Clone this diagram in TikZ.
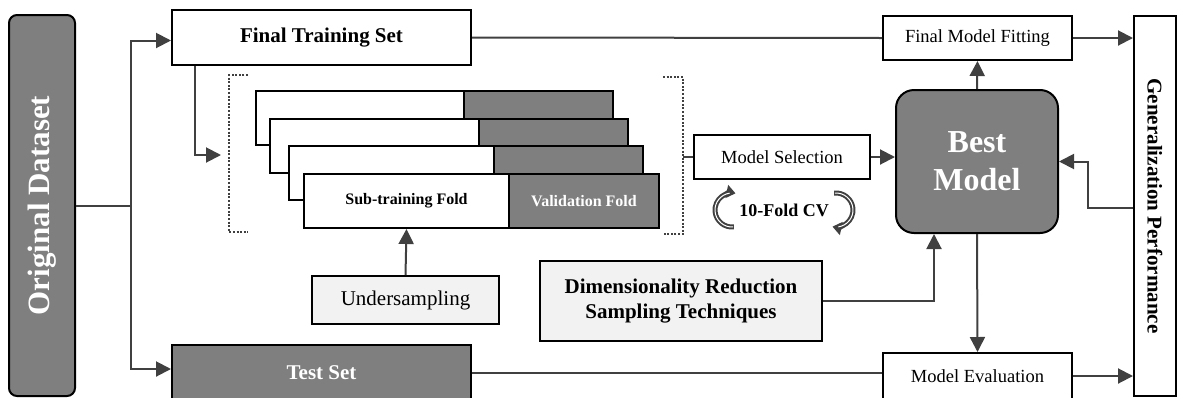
\documentclass[tikz,border=0pt]{standalone}
\usepackage{fontspec}
\setmainfont{Liberation Serif}
\usetikzlibrary{arrows.meta,calc}

\definecolor{boxgray}{HTML}{7F7F7F}
\definecolor{lightfill}{HTML}{F2F2F2}
\definecolor{linegray}{HTML}{404040}

\begin{document}
\begin{tikzpicture}[x=1pt,y=-1pt,
  box/.style={draw=black, line width=2pt, inner sep=0pt, align=center},
  whitebox/.style={box, fill=white},
  graybox/.style={box, fill=boxgray, text=white},
  lightbox/.style={box, fill=lightfill},
  conn/.style={draw=linegray, line width=2pt, -{Triangle[length=15pt,width=15pt]}},
  link/.style={draw=linegray, line width=2pt},
  bracket/.style={draw=linegray, line width=2pt, dash pattern=on 2pt off 1.6pt},
  cvarc/.style={draw=linegray, line width=5pt, -{Triangle[length=9pt,width=13pt]}},
  cvinner/.style={draw=white, line width=1pt},
  bigbold/.style={font=\bfseries\fontsize{21}{25}\selectfont},
  plain/.style={font=\fontsize{18.5}{22}\selectfont},
  foldtext/.style={font=\bfseries\fontsize{16}{19}\selectfont},
]
\useasboundingbox (0,0) rectangle (1177,397);

% input data and the two splits
\node[graybox, rounded corners=8pt, minimum width=66pt, minimum height=381pt,
      font=\bfseries\fontsize{31}{36}\selectfont] (orig) at (42,205.5)
      {\rotatebox{90}{Original Dataset}};
\node[whitebox, bigbold, minimum width=299pt, minimum height=55pt] (fts) at (321.5,37.5) {Final Training Set};
\node[graybox, bigbold, minimum width=299pt, minimum height=55pt] (test) at (321.5,372.5) {Test Set};

% output side
\node[whitebox, plain, minimum width=189pt, minimum height=44pt] (fmf) at (977.5,38) {Final Model Fitting};
\node[whitebox, plain, minimum width=189pt, minimum height=46pt] (me) at (977.5,376) {Model Evaluation};
\node[whitebox, bigbold, minimum width=42pt, minimum height=380pt] (gp) at (1155,206)
      {\rotatebox{-90}{Generalization Performance}};
\node[graybox, rounded corners=18pt, minimum width=162pt, minimum height=143pt,
      font=\bfseries\fontsize{32}{38}\selectfont] (bm) at (977,161.5) {Best\\Model};
\node[whitebox, plain, minimum width=176pt, minimum height=44pt] (ms) at (782,157) {Model Selection};

% cross-validation folds, back to front
\node[whitebox, anchor=north west, minimum width=208pt, minimum height=54pt] (f1a) at (255,90) {};
\node[graybox,  anchor=north west, minimum width=149pt, minimum height=54pt] (f1b) at (463,90) {};
\node[whitebox, anchor=north west, minimum width=209pt, minimum height=54pt] (f2a) at (269,118) {};
\node[graybox,  anchor=north west, minimum width=149pt, minimum height=54pt] (f2b) at (478,118) {};
\node[whitebox, anchor=north west, minimum width=205pt, minimum height=54pt] (f3a) at (288,145) {};
\node[graybox,  anchor=north west, minimum width=149pt, minimum height=54pt] (f3b) at (493,145) {};
\node[whitebox, foldtext, anchor=north west, minimum width=205pt, minimum height=54pt] (f4a) at (303,173) {Sub-training Fold};
\node[graybox,  foldtext, anchor=north west, minimum width=150pt, minimum height=54pt] (f4b) at (508,173) {Validation Fold};

% preprocessing boxes
\node[lightbox, font=\fontsize{21}{25}\selectfont, minimum width=187pt, minimum height=48pt] (us) at (405.5,300) {Undersampling};
\node[lightbox, bigbold, minimum width=282pt, minimum height=80pt] (dr) at (681,301)
      {Dimensionality Reduction\\Sampling Techniques};

% dotted brackets around the folds
\draw[bracket] (248,75) -- (229,75) -- (229,232) -- (248,232);
\draw[bracket] (663,77) -- (683,77) -- (683,234) -- (663,234);
\coordinate (lbin) at (221,155);
\coordinate (rb) at (683,157);

% 10-fold CV label with circular arrows
\node[font=\bfseries\fontsize{18}{22}\selectfont] (cv) at (784,210) {10-Fold CV};
\draw[cvarc] ($(732,210)+(84:17)$) arc[start angle=84, end angle=282, radius=17];
\draw[cvinner] ($(732,210)+(86:17)$) arc[start angle=86, end angle=262, radius=17];
\draw[cvarc] ($(836,210)+(-96:17)$) arc[start angle=-96, end angle=102, radius=17];
\draw[cvinner] ($(836,210)+(-94:17)$) arc[start angle=-94, end angle=82, radius=17];

% connectors
\coordinate (split) at (131,205.5);
\draw[link] (orig.east |- split) -- (split);
\draw[conn] (split) |- ([yshift=-3pt]fts.west);
\draw[conn] (split) |- ([yshift=3.5pt]test.west);
\draw[link] (fts.east) -- (fmf.west);
\draw[link] (test.east) -- (me.west |- test.east);
\draw[conn] ([xshift=-126.5pt]fts.south) |- (lbin);
\draw[link] (rb) -- (ms.west);
\draw[conn] (ms.east) -- (bm.west |- ms.east);
\draw[conn] (bm.north) -- (fmf.south);
\draw[conn] (bm.south) -- (me.north);
\draw[conn] (fmf.east) -- (gp.west |- fmf.east);
\draw[conn] (me.east) -- (gp.west |- me.east);
\coordinate (fb) at (1088,208);
\draw[conn] (gp.west |- fb) -- (fb) |- (bm.east);
\draw[conn] (us.north) -- (f4a.south);
\draw[conn] (dr.east) -| ([xshift=-43pt]bm.south);
\end{tikzpicture}
\end{document}
